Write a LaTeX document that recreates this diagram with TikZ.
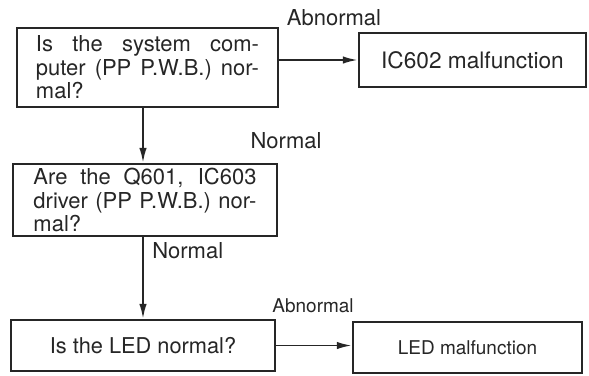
\documentclass[tikz,border=0pt]{standalone}
\usepackage{fontspec}
\setmainfont{TeX Gyre Heros}
\usetikzlibrary{arrows.meta}
\tikzset{
  fcbox/.style={draw=black!85, line width=1.4pt, rectangle, inner sep=0pt, text=black!85},
  fcarrow/.style={line width=1.1pt, draw=black!85, -{Latex[length=3mm,width=1.5mm]}},
  fclabel/.style={inner sep=0pt, anchor=base, text=black!85},
}
\newlength{\fcw}
\setlength{\fcw}{44.6mm}
\newcommand{\fcline}[1]{\makebox[\fcw][s]{#1}}
\newcommand{\fcbig}{\fontsize{12.5}{13.4}\selectfont}
\newcommand{\fcsmall}{\fontsize{10.8}{12}\selectfont}

\begin{document}
\begin{tikzpicture}[x=0.2mm,y=-0.2mm]
\useasboundingbox (0,0) rectangle (589,375);
\node[fcbox, minimum width=52.2mm, minimum height=15.8mm, align=left, font=\fcbig] (q1) at (147.5,67.5)
  {\fcline{Is the system com-}\\\fcline{puter (PP P.W.B.) nor-}\\mal?};
\node[fcbox, minimum width=45.4mm, minimum height=10.8mm, font=\fontsize{12.9}{14}\selectfont] (f1) at (472.5,60) {IC602 malfunction};
\node[fcbox, minimum width=52.8mm, minimum height=14.4mm, align=left, font=\fcbig] (q2) at (145,200)
  {\fcline{Are the Q601, IC603}\\\fcline{driver (PP P.W.B.) nor-}\\mal?};
\node[fcbox, minimum width=52.8mm, minimum height=10.2mm, font=\fontsize{12.4}{14}\selectfont] (q3) at (143,345.5) {Is the LED normal?};
\node[fcbox, minimum width=45.8mm, minimum height=10.2mm, font=\fcsmall] (f2) at (467.5,347.5) {LED malfunction};
% labels
\node[fclabel, font=\fcbig] (ab1) at (334,25) {Abnormal};
\node[fclabel, font=\fcbig] (no1) at (286,148) {Normal};
\node[fclabel, anchor=base west, font=\fcbig] (no2) at (152,258) {Normal};
\node[fclabel, font=\fcsmall] (ab2) at (313,312) {Abnormal};
% connectors
\draw[fcarrow] (q1.east |- f1.west) -- (f1.west);
\draw[fcarrow] (q1.south -| q3.north) -- (q2.north -| q3.north);
\draw[fcarrow] (q2.south -| q3.north) -- (q3.north);
\draw[fcarrow] (q3.east) -- (f2.west |- q3.east);
\end{tikzpicture}
\end{document}
